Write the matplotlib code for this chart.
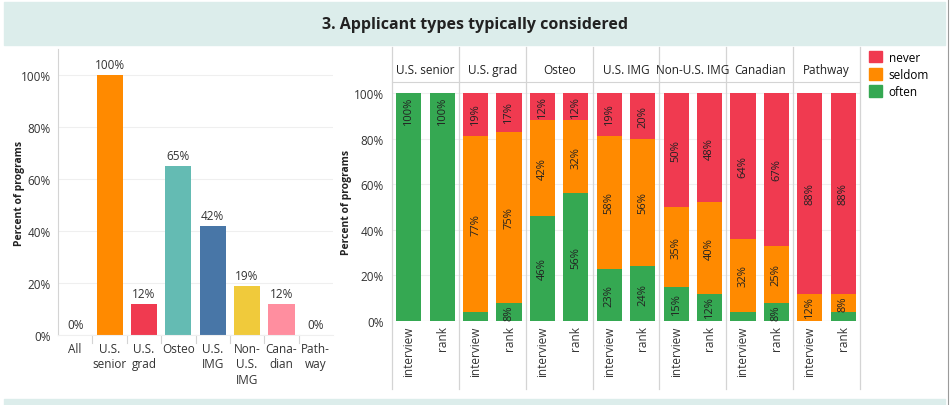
import numpy as np
import matplotlib.pyplot as plt
from matplotlib.patches import Rectangle, Patch
from matplotlib.lines import Line2D

plt.rcParams['font.family'] = ['Open Sans', 'DejaVu Sans']

# left panel: share of programs considering each applicant type
types = ['All', 'U.S.\nsenior', 'U.S.\ngrad', 'Osteo', 'U.S.\nIMG', 'Non-\nU.S.\nIMG', 'Cana-\ndian', 'Path-\nway']
considered = [0, 100, 12, 65, 42, 19, 12, 0]
type_colors = ['#9a9a9a', '#FF8A00', '#F03A50', '#64BBB3', '#4876A7', '#F0CA3B', '#FF8E9F', '#9a9a9a']

# right panel: interview / rank, often / seldom / never
groups = ['U.S. senior', 'U.S. grad', 'Osteo', 'U.S. IMG', 'Non-U.S. IMG', 'Canadian', 'Pathway']
stages = ['interview', 'rank']
often_interview = [100, 4, 46, 23, 15, 4, 0]
often_rank = [100, 8, 56, 24, 12, 8, 4]
seldom_interview = [0, 77, 42, 58, 35, 32, 12]
seldom_rank = [0, 75, 32, 56, 40, 25, 8]
never_interview = [0, 19, 12, 19, 50, 64, 88]
never_rank = [0, 17, 12, 20, 48, 67, 88]

c_never = '#F03A50'
c_seldom = '#FF8A00'
c_often = '#35A852'
grid_c = '#efefef'
line_c = '#d4d4d4'

W, H = 950, 406
fig = plt.figure(figsize=(9.5, 4.06), dpi=100)


def box(x0, y0, x1, y1):
    # pixel box (top-left origin) -> figure fraction rect
    return [x0 / W, (H - y1) / H, (x1 - x0) / W, (y1 - y0) / H]


# title band, bottom strip, right border
fig.patches.append(Rectangle((4 / W, (H - 46) / H), 941 / W, 43 / H,
                             transform=fig.transFigure, color='#DCEDEB', zorder=0))
fig.patches.append(Rectangle((4 / W, 0), 941 / W, 6 / H,
                             transform=fig.transFigure, color='#DCEDEB', zorder=0))
fig.add_artist(Line2D([947.5 / W, 947.5 / W], [0, 1], color='#9a9a9a', lw=0.8,
                      transform=fig.transFigure))
fig.text(475 / W, (H - 25) / H, '3. Applicant types typically considered',
         ha='center', va='center', fontsize=11.5, fontweight='bold', color='#222222')

# ---------------- left panel ----------------
ax1 = fig.add_axes(box(58, 50, 333, 336))
x1 = np.arange(len(types))
ax1.bar(x1, considered, width=0.76, color=type_colors, zorder=2)
for xi, v in zip(x1, considered):
    ax1.text(xi, v + 1.5, f'{v}%', ha='center', va='bottom', fontsize=8.5, color='#333333')
ax1.set_xlim(-0.5, len(types) - 0.5)
ax1.set_ylim(0, 110)
ax1.set_yticks([0, 20, 40, 60, 80, 100])
ax1.set_yticklabels([f'{t}%' for t in range(0, 101, 20)], fontsize=8.5, color='#333333')
ax1.yaxis.grid(True, color=grid_c, lw=0.8, zorder=0)
ax1.tick_params(axis='y', length=0, pad=5)
ax1.set_xticks(x1)
ax1.set_xticklabels(types, fontsize=8.5, color='#333333', linespacing=1.25)
ax1.tick_params(axis='x', length=0, pad=5)
for b in np.arange(0.5, len(types) - 0.5):
    ax1.plot([b, b], [0, -3], color=line_c, lw=0.8, clip_on=False)
for s in ['top', 'right']:
    ax1.spines[s].set_visible(False)
ax1.spines['left'].set_color(line_c)
ax1.spines['bottom'].set_color(grid_c)
ax1.set_ylabel('Percent of programs', fontsize=7.5, fontweight='bold', color='#222222')
ax1.yaxis.set_label_coords(-0.12, 0.5)

# ---------------- right panel ----------------
ax2 = fig.add_axes(box(392, 83, 860, 322))
pos_i = np.arange(len(groups)) * 2
pos_r = pos_i + 1
bw = 0.75


def stack(pos, often, seldom, never):
    often = np.array(often)
    seldom = np.array(seldom)
    never = np.array(never)
    ax2.bar(pos, often, width=bw, color=c_often, zorder=2)
    ax2.bar(pos, seldom, width=bw, bottom=often, color=c_seldom, zorder=2)
    ax2.bar(pos, never, width=bw, bottom=often + seldom, color=c_never, zorder=2)
    for p, o, s, n in zip(pos, often, seldom, never):
        for base, v in [(0, o), (o, s), (o + s, n)]:
            if v < 8:
                continue
            if v == 100:
                ax2.text(p, 98.5, f'{v}%', rotation=90, ha='center', va='top',
                         fontsize=8, color='#222222', zorder=3)
            else:
                ax2.text(p, base + v / 2, f'{v}%', rotation=90, ha='center', va='center',
                         fontsize=8, color='#222222', zorder=3)


stack(pos_i, often_interview, seldom_interview, never_interview)
stack(pos_r, often_rank, seldom_rank, never_rank)

ax2.set_xlim(-0.5, 2 * len(groups) - 0.5)
ax2.set_ylim(0, 104.8)
ax2.set_yticks([0, 20, 40, 60, 80, 100])
ax2.set_yticklabels([f'{t}%' for t in range(0, 101, 20)], fontsize=8.5, color='#333333')
ax2.yaxis.grid(True, color=grid_c, lw=0.8, zorder=0)
ax2.tick_params(axis='y', length=0, pad=6)
ticks = np.sort(np.concatenate([pos_i, pos_r]))
ax2.set_xticks(ticks)
ax2.set_xticklabels(stages * len(groups), rotation=90, fontsize=8.5, color='#333333')
ax2.tick_params(axis='x', length=0, pad=3)
for s in ['left', 'right', 'bottom']:
    ax2.spines[s].set_visible(False)
ax2.spines['top'].set_color(line_c)
ax2.axhline(0, color=line_c, lw=0.8, zorder=1)
ax2.set_ylabel('Percent of programs', fontsize=7.5, fontweight='bold', color='#222222')
ax2.yaxis.set_label_coords(-0.085, 0.5)

# facet separators and facet headers
for k in range(len(groups) + 1):
    xb = 2 * k - 0.5
    ax2.add_line(Line2D([xb, xb], [-0.285, 1.146], color=line_c, lw=0.9,
                        transform=ax2.get_xaxis_transform(), clip_on=False))
for k, g in enumerate(groups):
    ax2.text(2 * k + 0.5, 1.025, g, transform=ax2.get_xaxis_transform(),
             ha='center', va='bottom', fontsize=8.5, color='#222222')

# legend
handles = [Patch(color=c_never, label='never'),
           Patch(color=c_seldom, label='seldom'),
           Patch(color=c_often, label='often')]
fig.legend(handles=handles, loc='upper left', bbox_to_anchor=(864 / W, (H - 47) / H),
           frameon=False, fontsize=8.5, handlelength=1.1, handleheight=1.1,
           handletextpad=0.6, labelspacing=0.35, borderaxespad=0)

fig.savefig('out.png', dpi=100, facecolor='white')
